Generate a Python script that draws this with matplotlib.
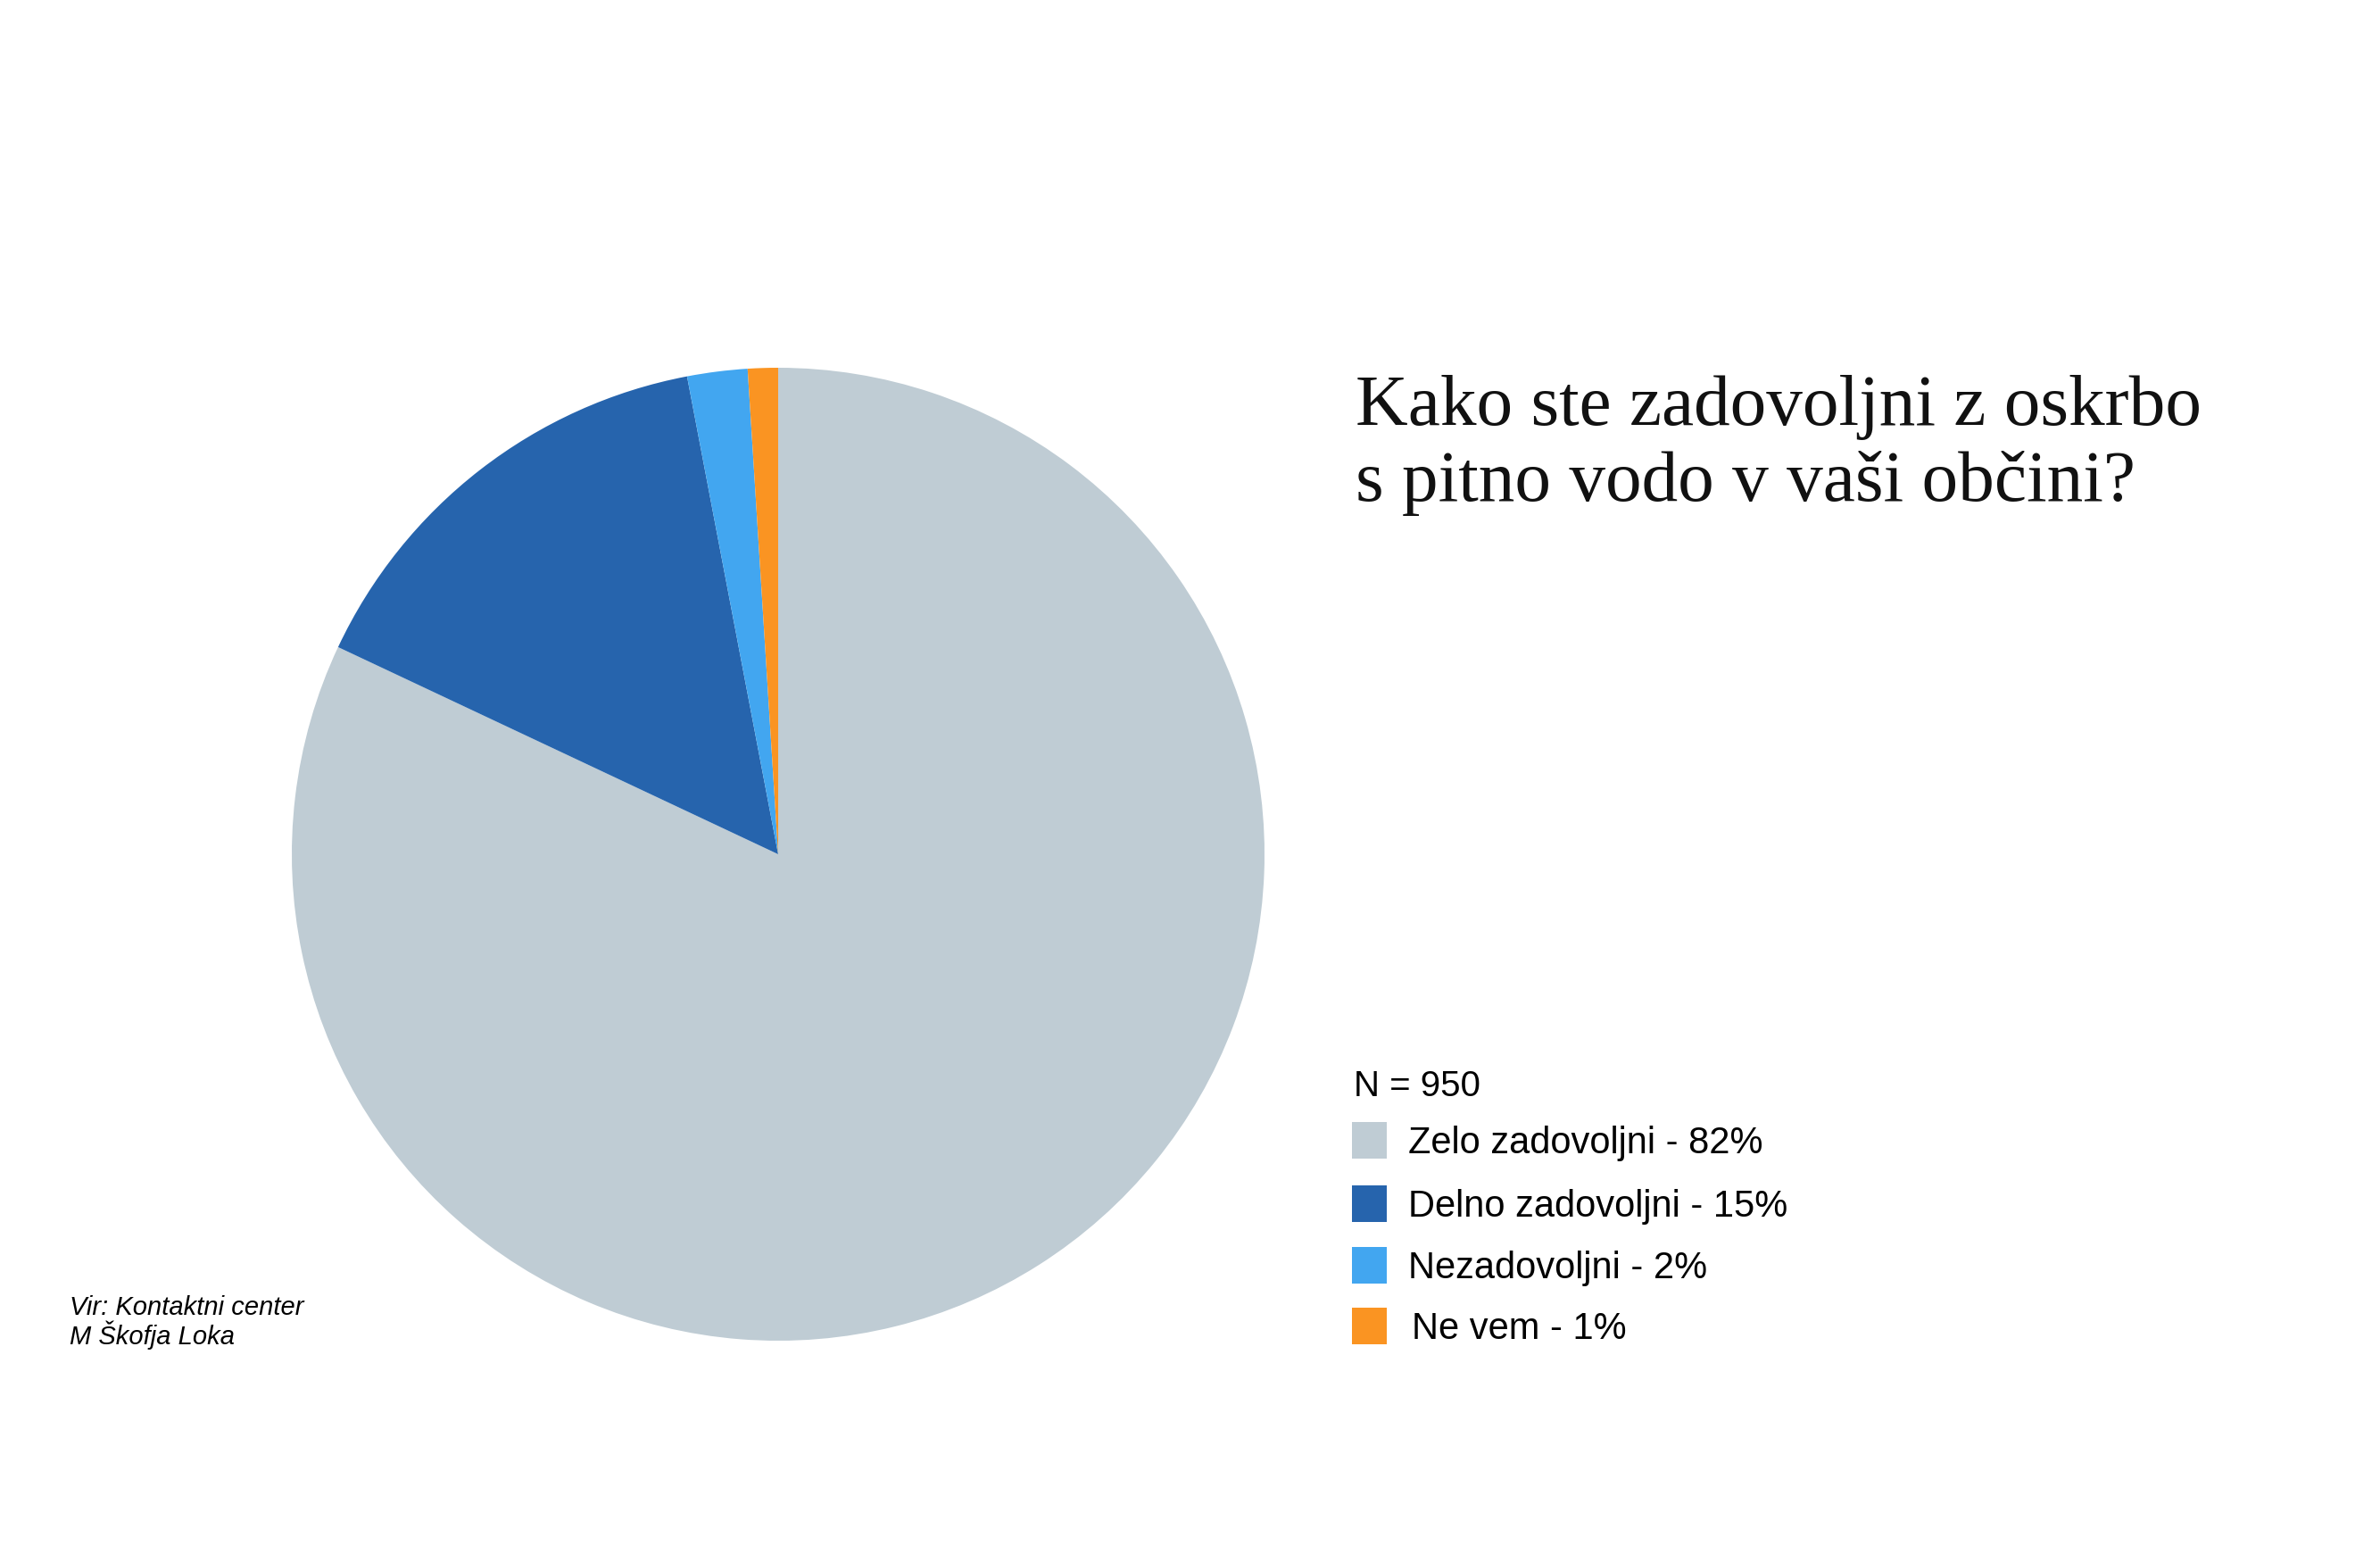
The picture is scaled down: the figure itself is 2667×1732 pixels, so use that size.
import matplotlib
matplotlib.use("Agg")
import matplotlib.pyplot as plt
from matplotlib.patches import Rectangle

# Survey data
categories = ["Zelo zadovoljni", "Delno zadovoljni", "Nezadovoljni", "Ne vem"]
shares = [82, 15, 2, 1]
colors = ["#BFCCD4", "#2664AD", "#42A6F0", "#FA9422"]
sample_size = 950
title_lines = ["Kako ste zadovoljni z oskrbo", "s pitno vodo v vaši občini?"]
source_lines = ["Vir: Kontaktni center", "M Škofja Loka"]

W, H = 2667, 1733
DPI = 100
fig = plt.figure(figsize=(W / DPI, H / DPI), dpi=DPI)
fig.patch.set_facecolor("white")

def fx(px):
    return px / W

def fy(py):
    return 1 - py / H

# Pie: centre and radius in pixels
cx, cy, r = 872, 958, 545
ax = fig.add_axes([fx(cx - r), fy(cy + r), 2 * r / W, 2 * r / H])
ax.pie(shares, colors=colors, startangle=90, counterclock=False,
       radius=1, wedgeprops=dict(linewidth=0))
ax.set_xlim(-1, 1)
ax.set_ylim(-1, 1)
ax.set_aspect("equal")
ax.axis("off")

# Title, one line at a time
for i, line in enumerate(title_lines):
    fig.text(fx(1519), fy(476 + 85 * i), line, fontsize=58.5,
             family="Liberation Serif", ha="left", va="baseline",
             color="#111111")

# Legend
sans = "Liberation Sans"
fig.text(fx(1517), fy(1228), f"N = {sample_size}", fontsize=29, family=sans,
         ha="left", va="baseline", color="black")
row_top = [1258, 1329, 1398, 1466]
text_x = [1578, 1578, 1578, 1582]
for top, tx, cat, val, col in zip(row_top, text_x, categories, shares, colors):
    fig.patches.append(Rectangle((fx(1515), fy(top + 41)), 39 / W, 41 / H,
                                 transform=fig.transFigure, facecolor=col,
                                 edgecolor="none"))
    fig.text(fx(tx), fy(top + 34), f"{cat} - {val}%", fontsize=30,
             family=sans, ha="left", va="baseline", color="black")

# Source note
for i, line in enumerate(source_lines):
    fig.text(fx(78), fy(1473 + 33 * i), line, fontsize=21, family=sans,
             style="italic", ha="left", va="baseline", color="black")

fig.savefig("out.png", dpi=DPI, facecolor="white")
